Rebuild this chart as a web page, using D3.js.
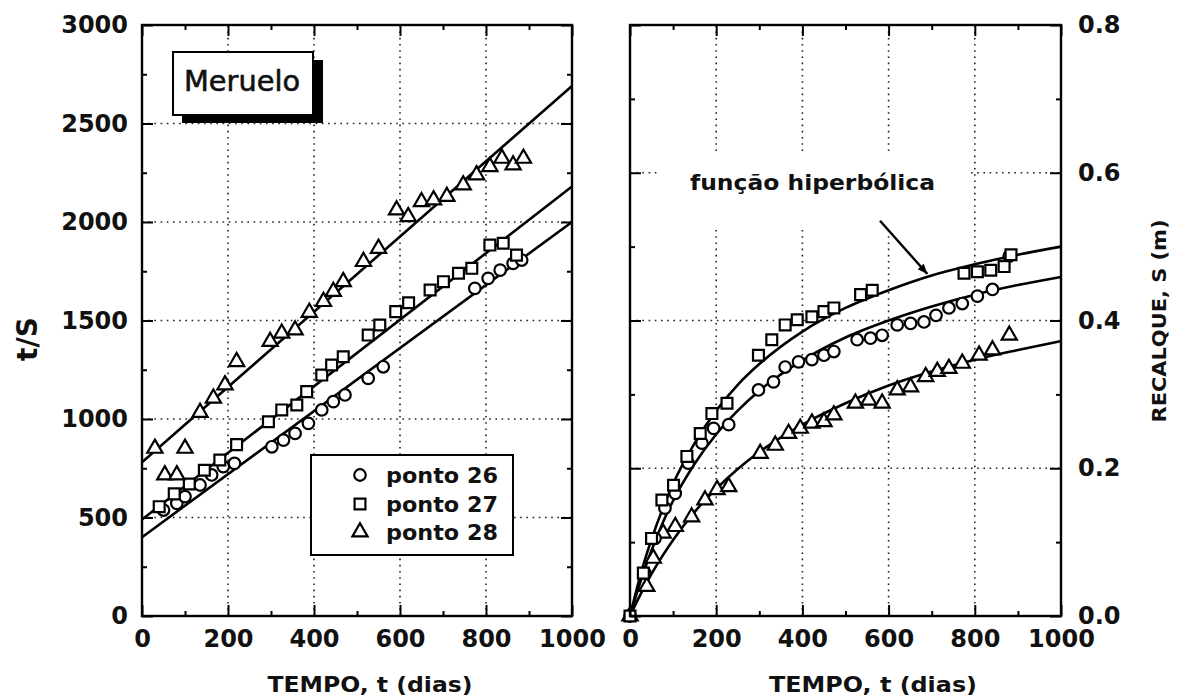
<!DOCTYPE html>
<html>
<head>
<meta charset="utf-8">
<script src="https://cdn.jsdelivr.net/npm/d3@7"></script>
<style>
html,body{margin:0;padding:0;background:#fff;}
svg{display:block;}
text{font-family:"DejaVu Sans",sans-serif;fill:#111;}
</style>
</head>
<body>
<svg id="chart" width="1181" height="699"></svg>
<script>
// ---------------- DATA ----------------
// Left panel: t/S versus t
const fitT = [0, 1000];
const fit26 = [400, 2000];
const fit27 = [490, 2180];
const fit28 = [780, 2690];

const p26T = [50, 81, 100, 135, 162, 189, 215, 302, 329, 356, 387, 418, 445, 472, 526, 561, 774, 805, 833, 863, 883];
const p26V = [538, 572, 606, 665, 716, 758, 775, 859, 893, 927, 978, 1046, 1088, 1122, 1206, 1265, 1663, 1714, 1756, 1790, 1807];

const p27T = [40, 75, 110, 145, 181, 220, 294, 325, 360, 383, 418, 441, 468, 526, 553, 590, 620, 670, 701, 736, 767, 809, 840, 871];
const p27V = [555, 620, 670, 740, 792, 870, 986, 1046, 1071, 1139, 1223, 1274, 1316, 1426, 1477, 1545, 1590, 1655, 1697, 1740, 1765, 1883, 1892, 1832];

const p28T = [30, 53, 81, 100, 135, 166, 193, 220, 298, 325, 356, 389, 422, 445, 468, 515, 550, 592, 619, 650, 678, 709, 747, 778, 809, 837, 863, 887];
const p28V = [851, 716, 716, 851, 1033, 1105, 1173, 1291, 1393, 1435, 1452, 1541, 1596, 1647, 1697, 1799, 1866, 2061, 2027, 2103, 2112, 2129, 2188, 2239, 2281, 2323, 2289, 2323];

// Right panel: settlement S (m) versus t, hyperbolic curves
const curveT   = [0, 25, 50, 75, 100, 150, 200, 250, 300, 400, 500, 600, 700, 800, 900, 1000];
const curveTop = [0, 0.057, 0.104, 0.144, 0.179, 0.234, 0.278, 0.313, 0.341, 0.385, 0.417, 0.441, 0.461, 0.476, 0.489, 0.500];
const curveMid = [0, 0.048, 0.089, 0.125, 0.156, 0.206, 0.246, 0.278, 0.305, 0.346, 0.377, 0.400, 0.419, 0.435, 0.448, 0.459];
const curveBot = [0, 0.030, 0.057, 0.081, 0.103, 0.141, 0.172, 0.199, 0.222, 0.259, 0.288, 0.312, 0.331, 0.347, 0.360, 0.372];

const rSqT = [0, 31, 50, 74, 101, 132, 163, 190, 225, 298, 329, 360, 388, 422, 450, 473, 535, 562, 775, 806, 837, 868, 884];
const rSqS = [0, 0.058, 0.105, 0.157, 0.177, 0.216, 0.247, 0.274, 0.288, 0.353, 0.374, 0.394, 0.401, 0.405, 0.412, 0.417, 0.435, 0.441, 0.464, 0.466, 0.468, 0.473, 0.489];

const rCiT = [0, 35, 58, 81, 105, 135, 167, 194, 229, 298, 333, 360, 391, 422, 450, 473, 527, 558, 585, 620, 651, 682, 710, 740, 771, 806, 841, 880];
const rCiS = [0, 0.058, 0.105, 0.146, 0.166, 0.207, 0.234, 0.254, 0.259, 0.306, 0.317, 0.337, 0.344, 0.347, 0.353, 0.358, 0.374, 0.376, 0.380, 0.394, 0.396, 0.398, 0.407, 0.417, 0.423, 0.433, 0.442, 0.487];

const rTrT = [0, 39, 54, 77, 105, 143, 174, 202, 229, 302, 337, 368, 395, 422, 450, 473, 523, 554, 585, 620, 651, 686, 713, 740, 771, 810, 841, 880];
const rTrS = [0, 0.040, 0.078, 0.112, 0.121, 0.134, 0.157, 0.171, 0.175, 0.220, 0.231, 0.247, 0.254, 0.261, 0.263, 0.272, 0.288, 0.292, 0.288, 0.306, 0.310, 0.324, 0.331, 0.335, 0.342, 0.353, 0.360, 0.380];

// Tick values
const xMajor = [0, 200, 400, 600, 800, 1000];
const xMinor = [100, 300, 500, 700, 900];
const yLMajor = [0, 500, 1000, 1500, 2000, 2500, 3000];
const yLMinor = [250, 750, 1250, 1750, 2250, 2750];
const yRMajor = [0, 0.2, 0.4, 0.6, 0.8];
const yRMinor = [0.1, 0.3, 0.5, 0.7];

const legendLabels = ["ponto 26", "ponto 27", "ponto 28"];

// ---------------- SCALES ----------------
const svg = d3.select("#chart");
svg.append("rect").attr("width", 1181).attr("height", 699).attr("fill", "#fff");

const xL = d3.scaleLinear().domain([0, 1000]).range([142, 572]);
const yL = d3.scaleLinear().domain([0, 3000]).range([616, 25]);
const xR = d3.scaleLinear().domain([0, 1000]).range([630, 1061]);
const yR = d3.scaleLinear().domain([0, 0.8]).range([616, 25]);

const symCircle = d3.symbol().type(d3.symbolCircle).size(105);
const symSquare = d3.symbol().type(d3.symbolSquare).size(118);
const symTri = d3.symbol().type(d3.symbolTriangle).size(100);

function grid(g, x, y, xs, ys) {
  const gg = g.append("g").attr("stroke", "#222").attr("stroke-width", 1.6)
    .attr("stroke-dasharray", "1.6,4.6").attr("fill", "none");
  xs.forEach(v => gg.append("line").attr("x1", x(v)).attr("x2", x(v)).attr("y1", y.range()[0]).attr("y2", y.range()[1]));
  ys.forEach(v => gg.append("line").attr("y1", y(v)).attr("y2", y(v)).attr("x1", x.range()[0]).attr("x2", x.range()[1]));
}

function frameAxes(x, y, yMaj, yMin, leftLabels, rightLabels, yFmt) {
  const x0 = x.range()[0], x1 = x.range()[1], y0 = y.range()[0], y1 = y.range()[1];
  const styleAxis = sel => {
    sel.select(".domain").remove();
    sel.selectAll("line").attr("stroke", "#000").attr("stroke-width", 2);
    sel.selectAll("text").attr("font-size", 24).attr("font-weight", "bold").attr("fill", "#111")
      .attr("font-family", "DejaVu Sans, sans-serif");
  };
  // bottom
  svg.append("g").attr("transform", `translate(0,${y0})`)
    .call(d3.axisBottom(x).tickValues(xMajor).tickSizeInner(-11).tickSizeOuter(0).tickPadding(14).tickFormat(d3.format("d")))
    .call(styleAxis);
  svg.append("g").attr("transform", `translate(0,${y0})`)
    .call(d3.axisBottom(x).tickValues(xMinor).tickSizeInner(-5).tickSizeOuter(0).tickFormat(""))
    .call(styleAxis);
  // top
  svg.append("g").attr("transform", `translate(0,${y1})`)
    .call(d3.axisTop(x).tickValues(xMajor).tickSizeInner(-11).tickSizeOuter(0).tickFormat(""))
    .call(styleAxis);
  svg.append("g").attr("transform", `translate(0,${y1})`)
    .call(d3.axisTop(x).tickValues(xMinor).tickSizeInner(-5).tickSizeOuter(0).tickFormat(""))
    .call(styleAxis);
  // left
  svg.append("g").attr("transform", `translate(${x0},0)`)
    .call(d3.axisLeft(y).tickValues(yMaj).tickSizeInner(-11).tickSizeOuter(0).tickPadding(14)
      .tickFormat(leftLabels ? yFmt : ""))
    .call(styleAxis);
  svg.append("g").attr("transform", `translate(${x0},0)`)
    .call(d3.axisLeft(y).tickValues(yMin).tickSizeInner(-5).tickSizeOuter(0).tickFormat(""))
    .call(styleAxis);
  // right
  svg.append("g").attr("transform", `translate(${x1},0)`)
    .call(d3.axisRight(y).tickValues(yMaj).tickSizeInner(-11).tickSizeOuter(0).tickPadding(17)
      .tickFormat(rightLabels ? yFmt : ""))
    .call(styleAxis);
  svg.append("g").attr("transform", `translate(${x1},0)`)
    .call(d3.axisRight(y).tickValues(yMin).tickSizeInner(-5).tickSizeOuter(0).tickFormat(""))
    .call(styleAxis);
  // frame
  svg.append("rect").attr("x", x0).attr("y", y1).attr("width", x1 - x0).attr("height", y0 - y1)
    .attr("fill", "none").attr("stroke", "#000").attr("stroke-width", 2.4);
}

function drawPoints(g, x, y, ts, vs, sym) {
  g.selectAll(null).data(ts.map((t, i) => [t, vs[i]])).enter().append("path")
    .attr("d", sym)
    .attr("transform", d => `translate(${x(d[0])},${y(d[1])})`)
    .attr("fill", "#fff").attr("stroke", "#000").attr("stroke-width", 2.2);
}

// ---------------- LEFT PANEL ----------------
grid(svg, xL, yL, [200, 400, 600, 800], [500, 1000, 1500, 2000, 2500]);

// Meruelo box
svg.append("rect").attr("x", 182).attr("y", 60).attr("width", 141).attr("height", 63).attr("fill", "#000");
svg.append("rect").attr("x", 173).attr("y", 52).attr("width", 140).attr("height", 63)
  .attr("fill", "#fff").attr("stroke", "#000").attr("stroke-width", 2);
svg.append("text").attr("x", 184).attr("y", 91).attr("font-size", 28)
  .attr("textLength", 116).attr("lengthAdjust", "spacingAndGlyphs")
  .attr("stroke", "#111").attr("stroke-width", 0.6).text("Meruelo");

const gL = svg.append("g");
const lineL = d3.line().x(d => xL(d[0])).y(d => yL(d[1]));
[fit26, fit27, fit28].forEach(f => {
  gL.append("path").attr("d", lineL(fitT.map((t, i) => [t, f[i]])))
    .attr("fill", "none").attr("stroke", "#000").attr("stroke-width", 2.6);
});
drawPoints(gL, xL, yL, p26T, p26V, symCircle);
drawPoints(gL, xL, yL, p27T, p27V, symSquare);
drawPoints(gL, xL, yL, p28T, p28V, symTri);

// legend
svg.append("rect").attr("x", 311).attr("y", 455).attr("width", 202).attr("height", 100)
  .attr("fill", "#fff").attr("stroke", "#000").attr("stroke-width", 2);
const legSyms = [symCircle, symSquare, symTri];
const legY = [475, 504, 532];
legendLabels.forEach((lab, i) => {
  svg.append("path").attr("d", legSyms[i]).attr("transform", `translate(360,${legY[i]})`)
    .attr("fill", "#fff").attr("stroke", "#000").attr("stroke-width", 2.2);
  svg.append("text").attr("x", 386).attr("y", legY[i] + 8).attr("font-size", 22).attr("font-weight", "bold")
    .attr("textLength", 112).attr("lengthAdjust", "spacingAndGlyphs").text(lab);
});

frameAxes(xL, yL, yLMajor, yLMinor, true, false, d3.format("d"));

// ---------------- RIGHT PANEL ----------------
grid(svg, xR, yR, [200, 400, 600, 800], [0.2, 0.4, 0.6]);

// label background and annotation
svg.append("rect").attr("x", 657).attr("y", 152).attr("width", 313).attr("height", 74).attr("fill", "#fff");
svg.append("text").attr("x", 690).attr("y", 190).attr("font-size", 21).attr("font-weight", "bold")
  .attr("textLength", 245).attr("lengthAdjust", "spacingAndGlyphs").text("função hiperbólica");

const gR = svg.append("g");
const lineR = d3.line().x(d => xR(d[0])).y(d => yR(d[1])).curve(d3.curveMonotoneX);
[curveTop, curveMid, curveBot].forEach(c => {
  gR.append("path").attr("d", lineR(curveT.map((t, i) => [t, c[i]])))
    .attr("fill", "none").attr("stroke", "#000").attr("stroke-width", 2.6);
});

// arrow
const ax0 = xR(580), ay0 = yR(0.535), ax1 = xR(690), ay1 = yR(0.463);
svg.append("line").attr("x1", ax0).attr("y1", ay0).attr("x2", ax1).attr("y2", ay1)
  .attr("stroke", "#000").attr("stroke-width", 2.4);
const ang = Math.atan2(ay1 - ay0, ax1 - ax0);
const ah = 10, aw = 4;
svg.append("path").attr("d", `M${ax1},${ay1} L${ax1 - ah * Math.cos(ang) + aw * Math.sin(ang)},${ay1 - ah * Math.sin(ang) - aw * Math.cos(ang)} L${ax1 - ah * Math.cos(ang) - aw * Math.sin(ang)},${ay1 - ah * Math.sin(ang) + aw * Math.cos(ang)} Z`)
  .attr("fill", "#000");

drawPoints(gR, xR, yR, rTrT, rTrS, symTri);
drawPoints(gR, xR, yR, rCiT, rCiS, symCircle);
drawPoints(gR, xR, yR, rSqT, rSqS, symSquare);

frameAxes(xR, yR, yRMajor, yRMinor, false, true, d3.format(".1f"));

// ---------------- AXIS TITLES ----------------
svg.append("text").attr("transform", "translate(37,339) rotate(-90)").attr("text-anchor", "middle")
  .attr("font-size", 28).attr("font-weight", "bold").text("t/S");
svg.append("text").attr("x", 370).attr("y", 692).attr("text-anchor", "middle")
  .attr("font-size", 22).attr("font-weight", "bold")
  .attr("textLength", 205).attr("lengthAdjust", "spacingAndGlyphs").text("TEMPO, t  (dias)");
svg.append("text").attr("x", 873).attr("y", 692).attr("text-anchor", "middle")
  .attr("font-size", 22).attr("font-weight", "bold")
  .attr("textLength", 208).attr("lengthAdjust", "spacingAndGlyphs").text("TEMPO, t  (dias)");
svg.append("text").attr("transform", "translate(1166,321) rotate(-90)").attr("text-anchor", "middle")
  .attr("font-size", 19).attr("font-weight", "bold")
  .attr("textLength", 203).attr("lengthAdjust", "spacingAndGlyphs").text("RECALQUE, S (m)");
</script>
</body>
</html>
